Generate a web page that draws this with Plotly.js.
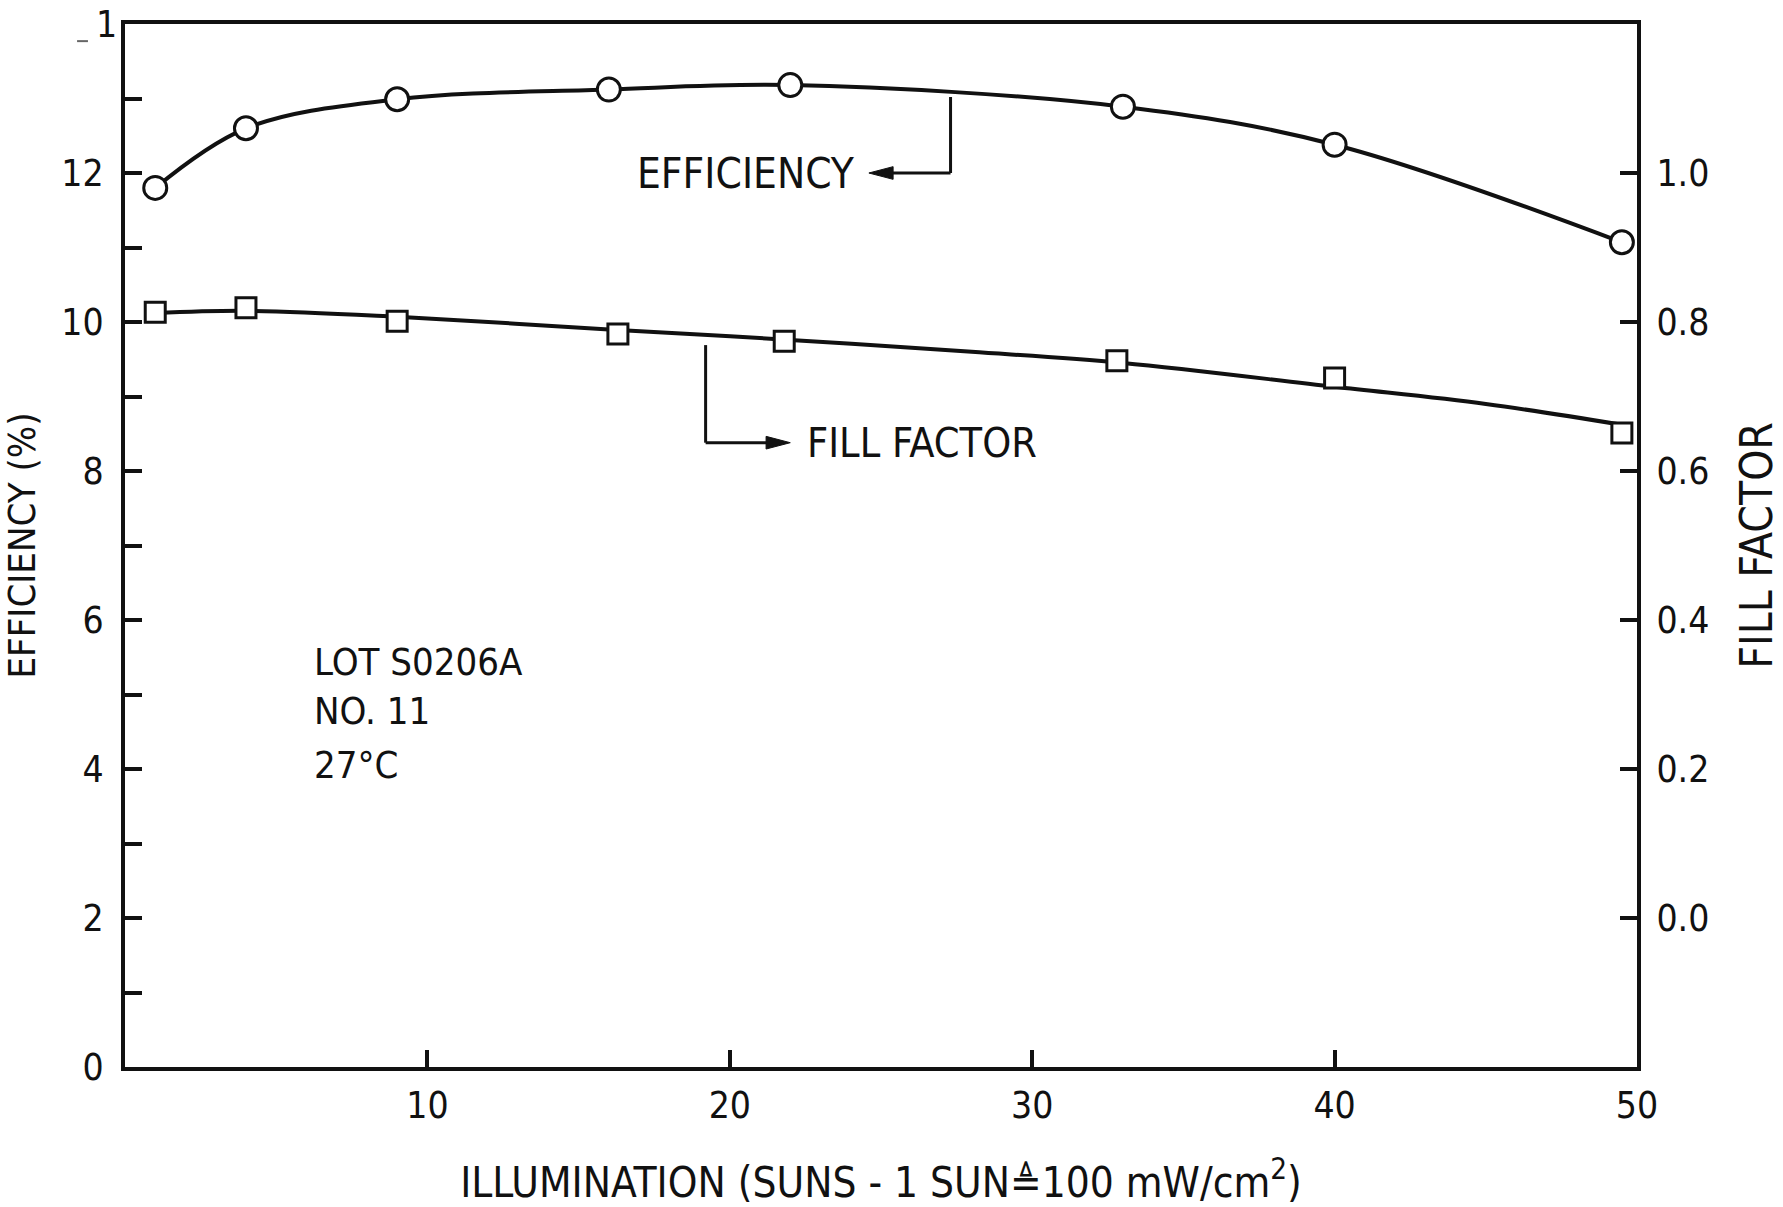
<!DOCTYPE html>
<html>
<head>
<meta charset="utf-8">
<script src="https://cdn.plot.ly/plotly-3.0.1.min.js"></script>
<style>
  html, body { margin: 0; padding: 0; background: #fff; }
  #chart { width: 1783px; height: 1207px; }
</style>
</head>
<body>
<div id="chart"></div>
<script>
// Efficiency data (circles), left axis, %
const illumEff = [1, 4, 9, 16, 22, 33, 40, 49.5];
const efficiency = [11.80, 12.60, 12.99, 13.12, 13.18, 12.89, 12.38, 11.07];

// Fill factor data (squares), right axis
const illumFF = [1, 4, 9, 16.3, 21.8, 32.8, 40, 49.5];
const fillFactor = [0.813, 0.819, 0.801, 0.784, 0.774, 0.748, 0.725, 0.651];

// Fill factor drawn curve
const fitIllum = [1, 4, 9, 16, 22, 28, 33, 40, 45, 49.5];
const fitFF = [0.812, 0.815, 0.807, 0.790, 0.776, 0.760, 0.745, 0.713, 0.690, 0.662];

// Axis ticks
const xTicks = [10, 20, 30, 40, 50];
const xTickText = ['10', '20', '30', '40', '50'];
const yTicks = [0, 2, 4, 6, 8, 10, 12];
const yTickText = ['0', '2', '4', '6', '8', '10', '12'];
const yMinorTicks = [1, 3, 5, 7, 9, 11, 13];
const y2Ticks = [0, 0.2, 0.4, 0.6, 0.8, 1.0];
const y2TickText = ['0.0', '0.2', '0.4', '0.6', '0.8', '1.0'];

// Labels
const xTitle = 'ILLUMINATION (SUNS - 1 SUN\u225C100 mW/cm<sup>2</sup>)';
const yTitle = 'EFFICIENCY (%)';
const y2Title = 'FILL FACTOR';
const effLabel = 'EFFICIENCY';
const ffLabel = 'FILL FACTOR';
const sampleLines = ['LOT S0206A', 'NO. 11', '27\u00B0C'];
const clippedTopLabel = '1';

const FONT = '"DejaVu Sans Condensed", "Liberation Sans Narrow", sans-serif';
const INK = '#111';

const traces = [
  {
    x: illumEff, y: efficiency, type: 'scatter', mode: 'lines+markers',
    line: { color: INK, width: 4, shape: 'spline', smoothing: 1 },
    marker: { symbol: 'circle', size: 23, color: '#fff', line: { color: INK, width: 3 } },
    xaxis: 'x', yaxis: 'y', name: 'Efficiency'
  },
  {
    x: fitIllum, y: fitFF, type: 'scatter', mode: 'lines',
    line: { color: INK, width: 4, shape: 'spline', smoothing: 1 },
    xaxis: 'x', yaxis: 'y2', hoverinfo: 'skip', name: 'Fill factor curve'
  },
  {
    x: illumFF, y: fillFactor, type: 'scatter', mode: 'markers',
    marker: { symbol: 'square', size: 20, color: '#fff', line: { color: INK, width: 3 } },
    xaxis: 'x', yaxis: 'y2', name: 'Fill factor'
  }
];

const tickFont = { family: FONT, size: 37, color: INK };

// pointer geometry for the two curve labels
const effArrow = { xv: 27.3, yTop: 13.02, y: 12.0, tip: 24.6 };
const ffArrow = { xv: 19.2, yTop: 0.769, y: 0.638, tip: 22.0 };

const layout = {
  width: 1783, height: 1207,
  margin: { l: 125, r: 146, t: 24, b: 140 },
  paper_bgcolor: '#fff', plot_bgcolor: '#fff',
  showlegend: false,
  font: { family: FONT, color: INK },
  xaxis: {
    range: [0, 50], tickvals: xTicks, ticktext: xTickText,
    ticks: 'inside', ticklen: 17, tickwidth: 4, tickcolor: INK,
    showline: true, linewidth: 4, linecolor: INK, mirror: true,
    showgrid: false, zeroline: false,
    tickfont: tickFont, ticklabelstandoff: 3,
    title: { text: xTitle, font: { family: FONT, size: 42, color: INK }, standoff: 48 }
  },
  yaxis: {
    range: [0, 14], tickvals: yTicks, ticktext: yTickText,
    ticks: 'inside', ticklen: 17, tickwidth: 4, tickcolor: INK,
    minor: { tickvals: yMinorTicks, ticks: 'inside', ticklen: 17, tickwidth: 4, tickcolor: INK },
    showline: true, linewidth: 4, linecolor: INK,
    showgrid: false, zeroline: false,
    tickfont: tickFont, ticklabelstandoff: 10,
    title: { text: yTitle, font: { family: FONT, size: 38, color: INK }, standoff: 22 }
  },
  yaxis2: {
    overlaying: 'y', side: 'right',
    range: [-0.2, 1.2], tickvals: y2Ticks, ticktext: y2TickText,
    ticks: 'inside', ticklen: 17, tickwidth: 4, tickcolor: INK,
    showline: true, linewidth: 4, linecolor: INK,
    showgrid: false, zeroline: false,
    tickfont: tickFont, ticklabelstandoff: 8,
    title: { text: y2Title, font: { family: FONT, size: 44, color: INK }, standoff: 34 }
  },
  shapes: [
    // EFFICIENCY pointer
    { type: 'line', xref: 'x', yref: 'y', x0: effArrow.xv, x1: effArrow.xv, y0: effArrow.yTop, y1: effArrow.y,
      line: { color: INK, width: 3 } },
    { type: 'line', xref: 'x', yref: 'y', x0: effArrow.xv, x1: effArrow.tip + 0.5, y0: effArrow.y, y1: effArrow.y,
      line: { color: INK, width: 3 } },
    { type: 'path', xref: 'x', yref: 'y',
      path: `M ${effArrow.tip},${effArrow.y} L ${effArrow.tip + 0.8},${effArrow.y + 0.085} L ${effArrow.tip + 0.8},${effArrow.y - 0.085} Z`,
      fillcolor: INK, line: { color: INK, width: 1 } },
    // FILL FACTOR pointer
    { type: 'line', xref: 'x', yref: 'y2', x0: ffArrow.xv, x1: ffArrow.xv, y0: ffArrow.yTop, y1: ffArrow.y,
      line: { color: INK, width: 3 } },
    { type: 'line', xref: 'x', yref: 'y2', x0: ffArrow.xv, x1: ffArrow.tip - 0.5, y0: ffArrow.y, y1: ffArrow.y,
      line: { color: INK, width: 3 } },
    { type: 'path', xref: 'x', yref: 'y2',
      path: `M ${ffArrow.tip},${ffArrow.y} L ${ffArrow.tip - 0.8},${ffArrow.y + 0.0085} L ${ffArrow.tip - 0.8},${ffArrow.y - 0.0085} Z`,
      fillcolor: INK, line: { color: INK, width: 1 } },
    // small scan mark beside the clipped top label
    { type: 'line', xref: 'paper', yref: 'y', x0: -0.0317, x1: -0.0245, y0: 13.77, y1: 13.77,
      line: { color: '#666', width: 2 } }
  ],
  annotations: [
    { xref: 'x', yref: 'y', x: 24.2, y: 12.0, xanchor: 'right', yanchor: 'middle', showarrow: false,
      text: effLabel, font: { family: FONT, size: 42, color: INK } },
    { xref: 'x', yref: 'y2', x: 22.5, y: 0.638, xanchor: 'left', yanchor: 'middle', showarrow: false,
      text: ffLabel, font: { family: FONT, size: 41, color: INK } },
    { xref: 'x', yref: 'y', x: 6.2, y: 5.44, xanchor: 'left', yanchor: 'middle', showarrow: false,
      text: sampleLines[0], font: { family: FONT, size: 38, color: INK } },
    { xref: 'x', yref: 'y', x: 6.2, y: 4.78, xanchor: 'left', yanchor: 'middle', showarrow: false,
      text: sampleLines[1], font: { family: FONT, size: 38, color: INK } },
    { xref: 'x', yref: 'y', x: 6.2, y: 4.05, xanchor: 'left', yanchor: 'middle', showarrow: false,
      text: sampleLines[2], font: { family: FONT, size: 38, color: INK } },
    // partially scanned top tick label
    { xref: 'paper', yref: 'paper', x: -0.012, y: 1.0, xanchor: 'center', yanchor: 'middle', showarrow: false,
      text: clippedTopLabel, font: { family: FONT, size: 37, color: INK } }
  ]
};

Plotly.newPlot('chart', traces, layout, { displayModeBar: false, staticPlot: true });
</script>
</body>
</html>
